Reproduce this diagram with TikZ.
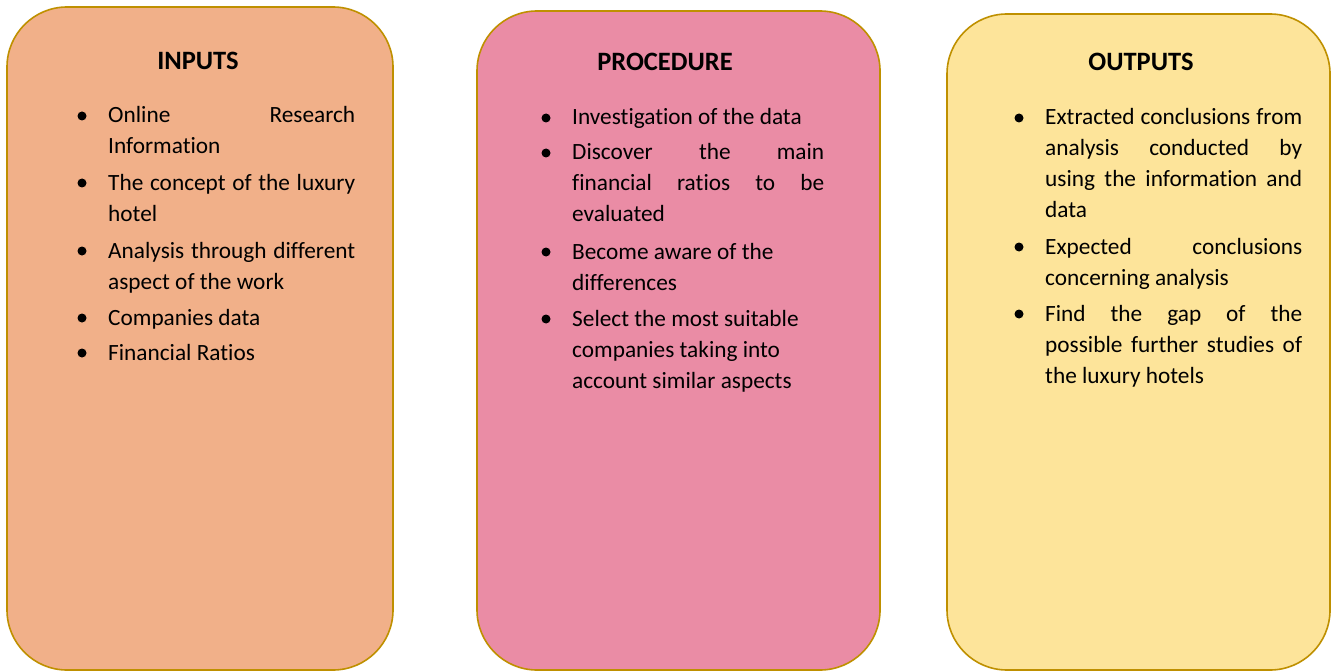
\documentclass[tikz,border=0pt]{standalone}
\usepackage{fontspec}
\setmainfont{Carlito}[Ligatures={NoCommon}]
\usetikzlibrary{shapes,arrows}
\definecolor{inputorange}{HTML}{F1B089}
\definecolor{procpink}{HTML}{EA8CA5}
\definecolor{outyellow}{HTML}{FDE49A}
\definecolor{rimgold}{HTML}{BF9000}
\tikzstyle{panel} = [draw=rimgold, line width=1.6pt, rounded corners=60pt, inner sep=0pt]
\tikzstyle{heading} = [font=\fontsize{26.5}{30}\selectfont\bfseries, anchor=base, inner sep=0pt]
\tikzstyle{entry} = [font=\fontsize{23.3}{31}\selectfont, align=justify, anchor=base west, inner sep=0pt]
\hbadness=10000

\begin{document}
\begin{tikzpicture}[x=1pt,y=-1pt]
\useasboundingbox (0,0) rectangle (1335,671);
% the three columns
\draw (200,338.5) node (inputs) [panel, fill=inputorange, minimum width=386pt, minimum height=663pt] {};
\draw (678.5,340.5) node (procedure) [panel, fill=procpink, minimum width=403pt, minimum height=659pt] {};
\draw (1138.5,342) node (outputs) [panel, fill=outyellow, minimum width=383pt, minimum height=656pt] {};
% headings
\draw (198,70) node (inhead) [heading] {INPUTS};
\draw (665,71) node (prhead) [heading] {PROCEDURE};
\draw (1141,71) node (outhead) [heading] {OUTPUTS};
% inputs
\draw (108,123) node (in1) [entry, text width=247pt] {Online Research\linebreak Information};
\draw (108,190) node (in2) [entry, text width=247pt] {The concept of the luxury\linebreak hotel};
\draw (108,258) node (in3) [entry, text width=247pt] {Analysis through different\linebreak aspect of the work};
\draw (108,325) node (in4) [entry, text width=247pt] {Companies data};
\draw (108,360) node (in5) [entry, text width=247pt] {Financial Ratios};
% procedure
\draw (572,125) node (pr1) [entry, text width=252pt] {Investigation of the data};
\draw (572,160) node (pr2) [entry, text width=252pt] {Discover the main\linebreak financial ratios to be\linebreak evaluated};
\draw (572,259) node (pr3) [entry, text width=252pt] {Become aware of the\newline differences};
\draw (572,326) node (pr4) [entry, text width=252pt] {Select the most suitable\newline companies taking into\newline account similar aspects};
% outputs
\draw (1045,125) node (out1) [entry, text width=257pt] {Extracted conclusions from\linebreak analysis conducted by\linebreak using the information and\linebreak data};
\draw (1045,254) node (out2) [entry, text width=257pt] {Expected conclusions\linebreak concerning analysis};
\draw (1045,321) node (out3) [entry, text width=257pt] {Find the gap of the\linebreak possible further studies of\linebreak the luxury hotels};
% bullets
\foreach \n in {in1,in2,in3,in4,in5,pr1,pr2,pr3,pr4,out1,out2,out3}
  \fill ([shift={(-26,-7)}]\n.base west) circle (4.5pt);
\end{tikzpicture}
\end{document}
